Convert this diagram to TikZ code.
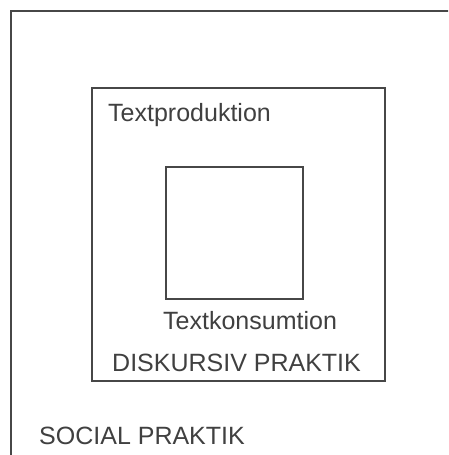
\documentclass[tikz,border=0pt]{standalone}
\usepackage{fontspec}
\setmainfont{Liberation Sans}
\begin{document}
\begin{tikzpicture}[x=1pt,y=-1pt,
  frame/.style={draw=black!72, line width=1.6pt, rectangle, inner sep=0pt},
  lbl/.style={anchor=base west, inner sep=0pt, text=black!75, font=\fontsize{25}{29}\selectfont}]
\useasboundingbox[fill=white] (0,0) rectangle (448,455);
\clip (0,0) rectangle (448,455);
\node[frame, minimum width=480pt, minimum height=480pt] (social) at (251,251) {};
\node[frame, minimum width=293pt, minimum height=293pt] (diskursiv) at (238.5,234.5) {};
\node[frame, minimum width=137pt, minimum height=132pt] (text) at (234.5,233) {};
\node[lbl] (prod) at (108,121) {Textproduktion};
\node[lbl] (kons) at (163,329) {Textkonsumtion};
\node[lbl] (disk) at (112,371) {DISKURSIV PRAKTIK};
\node[lbl] (soc) at (39,444) {SOCIAL PRAKTIK};
\end{tikzpicture}
\end{document}
